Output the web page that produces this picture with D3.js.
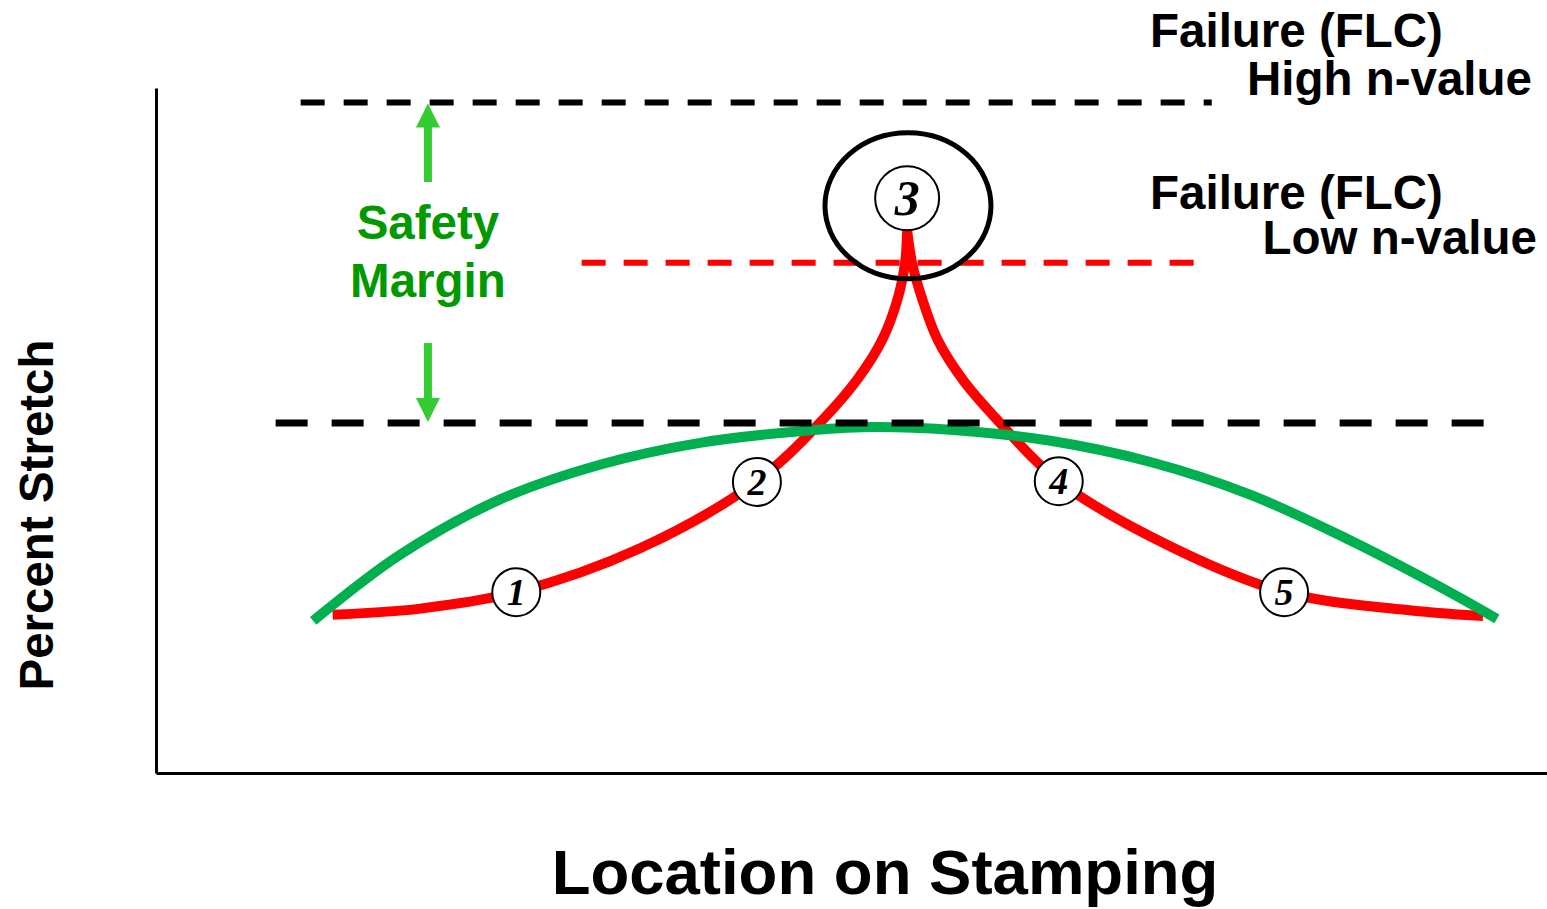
<!DOCTYPE html>
<html>
<head>
<meta charset="utf-8">
<script src="https://cdn.jsdelivr.net/npm/d3@7"></script>
<style>
  body { margin: 0; background: #fff; }
  svg { display: block; }
  .lbl { font-family: "Liberation Sans", Arial, sans-serif; font-weight: bold; }
  .num { font-family: "Liberation Serif", "Times New Roman", serif; font-style: italic; font-weight: bold; }
</style>
</head>
<body>
<svg id="chart"></svg>
<script>
// location on stamping (0-100) vs percent stretch (0-100)

// high n-value steel: broad, low strain distribution
var highN_x = [11.3, 17.5, 24.7, 31.9, 39.1, 46.3, 51.3, 57.1, 64.3, 71.5, 78.7, 85.8, 93.0, 96.4];
var highN_y = [22.2, 31.8, 39.9, 45.0, 48.2, 49.9, 50.5, 50.1, 48.5, 45.4, 40.6, 34.0, 26.4, 22.5];

// low n-value steel: strain localises at point 3
var lowLeft_x  = [12.7, 19.0, 25.9, 34.8, 43.2, 47.9, 50.4, 52.2, 53.3, 53.85, 54.0];
var lowLeft_y  = [23.1, 24.0, 26.4, 32.8, 42.6, 51.5, 57.4, 63.2, 69.1, 74.5, 79.3];
var lowRight_x = [54.0, 54.35, 55.1, 56.2, 58.0, 60.5, 64.9, 72.9, 81.1, 89.4, 95.4];
var lowRight_y = [79.3, 74.5, 69.1, 63.2, 57.4, 51.5, 42.6, 33.1, 26.4, 23.9, 22.9];

// numbered measuring points on the low n-value curve
var pointLabels = ["1", "2", "3", "4", "5"];
var point_x = [25.9, 43.2, 54.0, 64.9, 81.1];
var point_y = [26.4, 42.5, 83.9, 42.6, 26.4];

// reference levels
var flcHigh = 97.9, flcLow = 74.5, peakHighN = 51.1;
var flcHighRange = [10.4, 75.9];
var flcLowRange = [30.6, 75.4];
var peakRange = [8.6, 95.7];

var W = 1547, H = 909;
var svg = d3.select("#chart").attr("width", W).attr("height", H);

var x = d3.scaleLinear().domain([0, 100]).range([156, 1547]);
var y = d3.scaleLinear().domain([0, 100]).range([773, 88]);

// axes, lines only
svg.append("g")
  .attr("transform", "translate(156,0)")
  .call(d3.axisLeft(y).tickValues([]).tickSizeOuter(0))
  .select(".domain").attr("stroke-width", 3);
svg.append("g")
  .attr("transform", "translate(0,773)")
  .call(d3.axisBottom(x).tickValues([]).tickSizeOuter(0))
  .select(".domain").attr("stroke-width", 3);

var line = d3.line()
  .x(function(d){ return x(d[0]); })
  .y(function(d){ return y(d[1]); })
  .curve(d3.curveCatmullRom.alpha(0.5));

function pairs(xs, ys){
  return xs.map(function(v, i){ return [v, ys[i]]; });
}

// red curve (two halves, sharp peak)
[pairs(lowLeft_x, lowLeft_y), pairs(lowRight_x, lowRight_y)].forEach(function(d){
  svg.append("path")
    .attr("d", line(d))
    .attr("fill", "none")
    .attr("stroke", "#ff0000")
    .attr("stroke-width", 10);
});

// green curve
svg.append("path")
  .attr("d", line(pairs(highN_x, highN_y)))
  .attr("fill", "none")
  .attr("stroke", "#00b050")
  .attr("stroke-width", 10);

// dashed levels
function level(v, range, color, width, dash){
  svg.append("line")
    .attr("x1", x(range[0])).attr("x2", x(range[1]))
    .attr("y1", y(v)).attr("y2", y(v))
    .attr("stroke", color)
    .attr("stroke-width", width)
    .attr("stroke-dasharray", dash);
}
level(flcHigh, flcHighRange, "#000", 6, "24,19");
level(peakHighN, peakRange, "#000", 7, "32,24");
level(flcLow, flcLowRange, "#ff0000", 6, "24,18");

// safety margin arrows
var ax = x(19.55);
function arrow(y0, y1){
  var dir = y1 < y0 ? 1 : -1;
  svg.append("line")
    .attr("x1", ax).attr("x2", ax)
    .attr("y1", y0).attr("y2", y1 + dir * 22)
    .attr("stroke", "#33cc33")
    .attr("stroke-width", 8);
  svg.append("path")
    .attr("d", "M" + ax + "," + y1 + "L" + (ax - 12) + "," + (y1 + dir * 24) + "L" + (ax + 12) + "," + (y1 + dir * 24) + "Z")
    .attr("fill", "#33cc33");
}
arrow(182, y(flcHigh) + 1);
arrow(343, y(peakHighN) - 1);

svg.append("text")
  .attr("class", "lbl")
  .attr("x", ax).attr("y", 239)
  .attr("text-anchor", "middle")
  .attr("font-size", 47.5)
  .attr("fill", "#009900")
  .text("Safety");
svg.append("text")
  .attr("class", "lbl")
  .attr("x", ax).attr("y", 297)
  .attr("text-anchor", "middle")
  .attr("font-size", 47.5)
  .attr("fill", "#009900")
  .text("Margin");

// numbered points
var pts = svg.selectAll("g.pt")
  .data(pointLabels)
  .enter().append("g")
  .attr("class", "pt")
  .attr("transform", function(d, i){
    return "translate(" + x(point_x[i]) + "," + y(point_y[i]) + ")";
  });
pts.append("circle")
  .attr("r", function(d){ return d == "3" ? 32 : 24; })
  .attr("fill", "#fff")
  .attr("stroke", "#000")
  .attr("stroke-width", 2);
pts.append("text")
  .attr("class", "num")
  .attr("text-anchor", "middle")
  .attr("dy", "0.34em")
  .attr("font-size", function(d){ return d == "3" ? 50 : 38; })
  .text(function(d){ return d; });

// big circle around the failure point
svg.append("ellipse")
  .attr("cx", x(54.06)).attr("cy", y(82.8))
  .attr("rx", 83).attr("ry", 73)
  .attr("fill", "none")
  .attr("stroke", "#000")
  .attr("stroke-width", 5);

// labels on the right
var labels = [
  {t: "Failure (FLC)", x: 1150, y: 47, a: "start"},
  {t: "High n-value", x: 1532, y: 95, a: "end"},
  {t: "Failure (FLC)", x: 1150, y: 209, a: "start"},
  {t: "Low n-value", x: 1537, y: 254, a: "end"}
];
labels.forEach(function(l){
  svg.append("text")
    .attr("class", "lbl")
    .attr("x", l.x).attr("y", l.y)
    .attr("text-anchor", l.a)
    .attr("font-size", 47.5)
    .text(l.t);
});

// axis titles
svg.append("text")
  .attr("class", "lbl")
  .attr("x", 885).attr("y", 894)
  .attr("text-anchor", "middle")
  .attr("font-size", 63.5)
  .text("Location on Stamping");
svg.append("text")
  .attr("class", "lbl")
  .attr("transform", "translate(53,515) rotate(-90)")
  .attr("text-anchor", "middle")
  .attr("font-size", 47.5)
  .text("Percent Stretch");
</script>
</body>
</html>
